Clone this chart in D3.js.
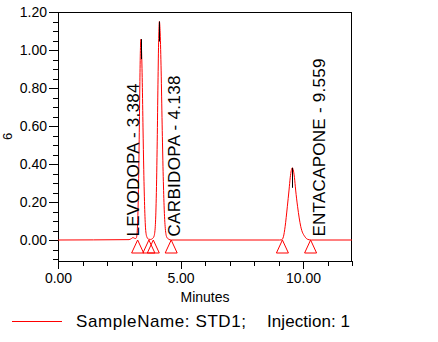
<!DOCTYPE html>
<html>
<head>
<meta charset="utf-8">
<script src="https://cdn.jsdelivr.net/npm/d3@7/dist/d3.min.js"></script>
<style>
  html, body { margin: 0; padding: 0; background: #fff; }
  svg { display: block; }
  text { font-family: "Liberation Sans", Arial, sans-serif; fill: #000; }
</style>
</head>
<body>
<svg id="chart" width="438" height="342"></svg>
<script>
// ---- data ----
const traceTimes = [0, 2.9, 3.0, 3.06, 3.12, 3.17, 3.20, 3.24, 3.28, 3.31, 3.34, 3.36, 3.384, 3.41, 3.44, 3.47, 3.50, 3.54, 3.58, 3.63, 3.70, 3.78,
  3.86, 3.92, 3.97, 4.01, 4.05, 4.08, 4.11, 4.138, 4.17, 4.21, 4.25, 4.29, 4.33, 4.38, 4.44, 4.52, 4.62,
  9.05, 9.13, 9.20, 9.27, 9.36, 9.43, 9.48, 9.52, 9.559, 9.60, 9.65, 9.70, 9.78, 9.91, 10.08, 10.20, 10.35, 12];
const traceValues = [0, 0.002, 0.008, 0.013, 0.009, 0.008, 0.012, 0.06, 0.24, 0.49, 0.81, 0.98, 1.057, 1.00, 0.83, 0.59, 0.37, 0.16, 0.05, 0.015, 0.004, 0.003,
  0.008, 0.02, 0.07, 0.22, 0.52, 0.82, 1.06, 1.15, 1.09, 0.89, 0.61, 0.36, 0.18, 0.06, 0.015, 0.004, 0,
  0, 0.001, 0.017, 0.07, 0.175, 0.263, 0.33, 0.365, 0.38, 0.37, 0.33, 0.263, 0.175, 0.07, 0.017, 0.003, 0, 0];

const peakNames = ["LEVODOPA", "CARBIDOPA", "ENTACAPONE"];
const peakTimes = [3.384, 4.138, 9.559];
const peakHeights = [1.057, 1.15, 0.38];
const markerTimes = [3.25, 3.71, 3.89, 4.62, 9.16, 10.31];

const xMajorTicks = [0, 5, 10];
const xMinorTicks = [1, 2, 3, 4, 6, 7, 8, 9, 11, 12];
const yMajorTicks = [0, 0.2, 0.4, 0.6, 0.8, 1.0, 1.2];
const yMinorTicks = [-0.10, -0.05, 0.05, 0.10, 0.15, 0.25, 0.30, 0.35, 0.45, 0.50, 0.55, 0.65, 0.70, 0.75, 0.85, 0.90, 0.95, 1.05, 1.10, 1.15];

const xTitle = "Minutes";
const yTitle = "6";
const legendName = "SampleName: STD1;";
const legendInj = "Injection: 1";

// ---- layout ----
const L = 58, R = 352, T = 12, B = 261;
const svg = d3.select("#chart");
const x = d3.scaleLinear().domain([0, 12]).range([L, R]);
const y = d3.scaleLinear().domain([-0.1105, 1.2]).range([B, T]);
const fmt = d3.format(".2f");

// clip
svg.append("clipPath").attr("id", "clip").append("rect")
  .attr("x", L).attr("y", T).attr("width", R - L).attr("height", B - T);

// axes
const gy = svg.append("g").attr("transform", `translate(${L},0)`);
gy.call(d3.axisLeft(y).tickValues(yMajorTicks).tickFormat(fmt).tickSize(9).tickPadding(2));
const gy2 = svg.append("g").attr("transform", `translate(${L},0)`);
gy2.call(d3.axisLeft(y).tickValues(yMinorTicks).tickFormat("").tickSize(5));
const gx = svg.append("g").attr("transform", `translate(0,${B})`);
gx.call(d3.axisBottom(x).tickValues(xMajorTicks).tickFormat(fmt).tickSize(8).tickPadding(4));
const gx2 = svg.append("g").attr("transform", `translate(0,${B})`);
gx2.call(d3.axisBottom(x).tickValues(xMinorTicks).tickFormat("").tickSize(5));
svg.selectAll(".domain").remove();
svg.selectAll(".tick line").attr("stroke", "#000").attr("shape-rendering", "crispEdges");
svg.selectAll(".tick text").attr("font-size", 14).attr("font-family", "Liberation Sans, Arial, sans-serif").attr("fill", "#000");

// frame
svg.append("rect").attr("x", L + 0.5).attr("y", T + 0.5).attr("width", R - L - 1).attr("height", B - T)
  .attr("fill", "none").attr("stroke", "#000").attr("stroke-width", 1).attr("shape-rendering", "crispEdges");

// trace
const pts = traceTimes.map((t, i) => [t, traceValues[i]]);
const line = d3.line().x(d => x(d[0])).y(d => y(d[1])).curve(d3.curveMonotoneX);
svg.append("path").attr("clip-path", "url(#clip)").datum(pts)
  .attr("d", line).attr("fill", "none").attr("stroke", "#ff0000").attr("stroke-width", 1);

// apex markers
svg.append("g").selectAll("line").data(peakTimes).join("line")
  .attr("x1", (d) => Math.round(x(d)) + 0.5).attr("x2", (d) => Math.round(x(d)) + 0.5)
  .attr("y1", (d, i) => y(peakHeights[i])).attr("y2", (d, i) => y(peakHeights[i]) + 20)
  .attr("stroke", "#000").attr("stroke-width", 1);

// integration triangles
const y0 = y(0);
svg.append("g").selectAll("path").data(markerTimes).join("path")
  .attr("d", d => `M${x(d) - 6},${y0 + 13}L${x(d)},${y0}L${x(d) + 6},${y0 + 13}Z`)
  .attr("fill", "none").attr("stroke", "#ff0000").attr("stroke-width", 1);

// peak labels
const labelDx = [-2.4, 21.1, 33.3];
const labelLen = [153, 161, 178];
svg.append("g").selectAll("text").data(peakTimes).join("text")
  .attr("transform", (d, i) => `translate(${x(d) + labelDx[i]},${y0 - 3.5}) rotate(-90)`)
  .attr("font-size", 17)
  .attr("textLength", (d, i) => labelLen[i]).attr("lengthAdjust", "spacing")
  .text((d, i) => `${peakNames[i]} - ${d3.format(".3f")(d)}`);

// axis titles
svg.append("text").attr("x", (L + R) / 2).attr("y", 301.5).attr("text-anchor", "middle")
  .attr("font-size", 14).text(xTitle);
svg.append("text").attr("transform", `translate(12,${(T + B) / 2}) rotate(-90)`).attr("text-anchor", "middle")
  .attr("font-size", 13).text(yTitle);

// legend
svg.append("line").attr("x1", 12).attr("x2", 62).attr("y1", 321.5).attr("y2", 321.5)
  .attr("stroke", "#ff0000").attr("stroke-width", 1);
const lt = svg.append("text").attr("y", 327).attr("font-size", 17);
lt.append("tspan").attr("x", 76).attr("textLength", 170).attr("lengthAdjust", "spacing").text(legendName);
lt.append("tspan").attr("x", 267).attr("textLength", 83).attr("lengthAdjust", "spacing").text(legendInj);
</script>
</body>
</html>
